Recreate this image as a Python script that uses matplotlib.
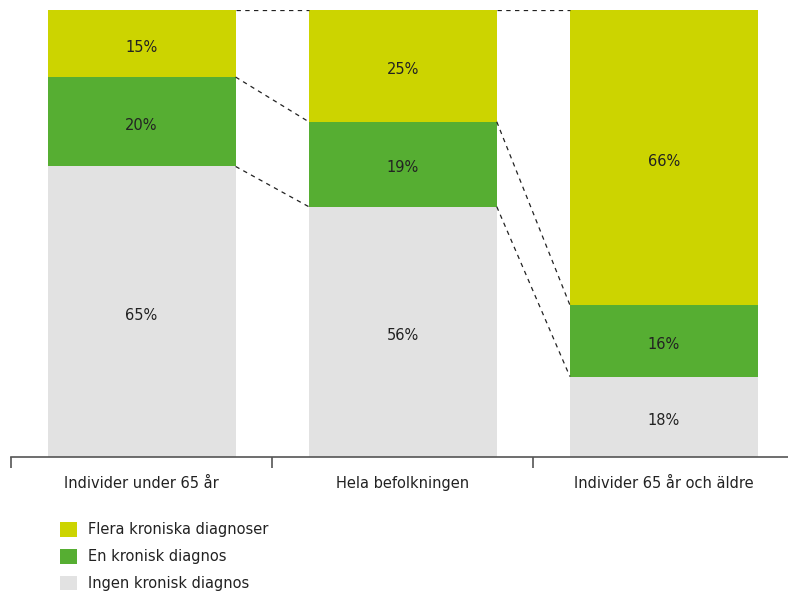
import matplotlib.pyplot as plt
import numpy as np
from matplotlib.patches import Patch

# Andel (%) per grupp, nerifrån och upp
groups = ['Individer under 65 år', 'Hela befolkningen', 'Individer 65 år och äldre']
ingen = [65, 56, 18]
en = [20, 19, 16]
flera = [15, 25, 66]

series = ['Ingen kronisk diagnos', 'En kronisk diagnos', 'Flera kroniska diagnoser']
colors = ['#e2e2e2', '#56ae32', '#ccd400']

plt.rcParams['font.family'] = ['DejaVu Sans']

fig = plt.figure(figsize=(7.88, 5.93), dpi=100)
ax = fig.add_axes([11 / 788, 136 / 593, 783.5 / 788, 447 / 593])

x = np.arange(len(groups))
width = 0.72
values = [ingen, en, flera]
bottom = np.zeros(len(groups))
for vals, col in zip(values, colors):
    vals = np.array(vals, dtype=float)
    ax.bar(x, vals, width, bottom=bottom, color=col, linewidth=0)
    for xi, b, v in zip(x, bottom, vals):
        ax.text(xi, b + v / 2 - 0.8, f'{v:.0f}%', ha='center', va='center',
                fontsize=10.5, color='#222222')
    bottom += vals

# streckade linjer mellan staplarnas segmentgränser
cum = np.cumsum(np.array(values), axis=0)
for level in cum:
    for i in range(len(groups) - 1):
        ax.plot([x[i] + width / 2, x[i + 1] - width / 2],
                [level[i], level[i + 1]],
                color='#222222', lw=0.9, ls=(0, (3.5, 3.5)))

ax.set_xlim(-0.5, 2.5)
ax.set_ylim(0, 100)
for s in ['top', 'right', 'left']:
    ax.spines[s].set_visible(False)
ax.spines['bottom'].set_color('#555555')
ax.spines['bottom'].set_linewidth(1.2)
ax.set_yticks([])
ax.set_xticks(x)
ax.set_xticklabels(groups, fontsize=10.5, color='#222222')
ax.tick_params(axis='x', which='major', length=0, pad=13.5)
ax.set_xticks([-0.5, 0.5, 1.5, 2.5], minor=True)
ax.tick_params(axis='x', which='minor', length=8, width=1.2, color='#555555')

handles = [Patch(facecolor=c, edgecolor='none') for c in colors[::-1]]
fig.legend(handles, series[::-1], loc='upper left',
           bbox_to_anchor=(53 / 788, 1 - 515 / 593), frameon=False,
           fontsize=10.5, handlelength=1.15, handleheight=1.15,
           handletextpad=0.75, labelspacing=0.8, borderpad=0,
           labelcolor='#222222')

fig.savefig('out.png', dpi=100)
